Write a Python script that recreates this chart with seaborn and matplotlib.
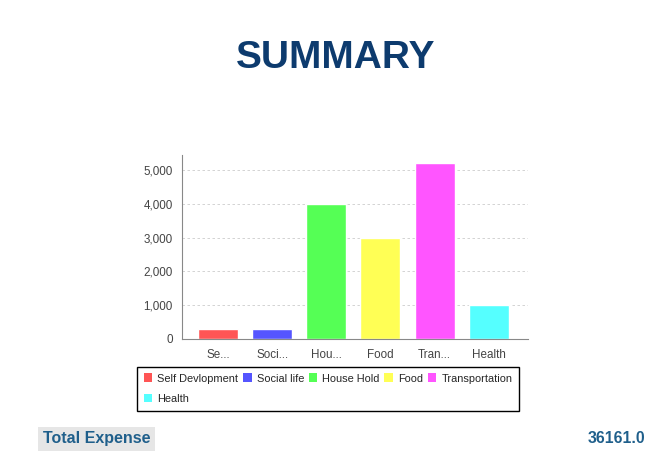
import matplotlib
matplotlib.use("Agg")
import matplotlib.pyplot as plt
import seaborn as sns
import pandas as pd
from matplotlib.patches import Patch
from matplotlib.ticker import FuncFormatter

# data
categories = ["Self Devlopment", "Social life", "House Hold", "Food", "Transportation", "Health"]
short_labels = ["Se...", "Soci...", "Hou...", "Food", "Tran...", "Health"]
amounts = [300, 300, 4000, 3000, 5200, 1000]
colors = ["#FF5555", "#5555FF", "#55FF55", "#FFFF55", "#FF55FF", "#55FFFF"]
total_text = "36161.0"

df = pd.DataFrame({"category": categories, "amount": amounts})

sns.set_style("white")
plt.rcParams["font.family"] = ["Liberation Sans", "DejaVu Sans"]

fig = plt.figure(figsize=(6.68, 4.68), dpi=100)
ax = fig.add_axes([0.272, 0.276, 0.518, 0.393])

sns.barplot(data=df, x="category", y="amount", hue="category",
            palette=colors, legend=False, width=0.74, saturation=1, ax=ax)

ax.set_ylim(0, 5450)
ax.set_xlim(-0.67, 5.72)
ax.set_yticks([0, 1000, 2000, 3000, 4000, 5000])
ax.yaxis.set_major_formatter(FuncFormatter(lambda v, p: f"{int(v):,}"))
ax.set_xticks(range(len(categories)))
ax.set_xticklabels(short_labels)
ax.set_xlabel("")
ax.set_ylabel("")
ax.tick_params(axis="both", labelsize=8.4, colors="#444444", length=3, width=0.6)
ax.tick_params(axis="x", pad=4)
ax.grid(axis="y", linestyle=(0, (3, 3)), color="#cccccc", linewidth=0.6)
ax.set_axisbelow(True)
for side in ["top", "right"]:
    ax.spines[side].set_visible(False)
for side in ["left", "bottom"]:
    ax.spines[side].set_color("#888888")
    ax.spines[side].set_linewidth(0.8)

# legend: order so that Health drops to the second row of the first column
handles = [Patch(facecolor=c, edgecolor="none", label=n) for n, c in zip(categories, colors)]
order = [0, 5, 1, 2, 3, 4]
leg = fig.legend([handles[i] for i in order], [categories[i] for i in order],
                 ncol=5, loc="upper left", bbox_to_anchor=(0.205, 0.216),
                 fontsize=7.9, frameon=True, fancybox=False, edgecolor="black",
                 handlelength=0.8, handleheight=0.8, handletextpad=0.45,
                 columnspacing=0.42, borderpad=0.6, labelspacing=0.95,
                 borderaxespad=0)
leg.get_frame().set_linewidth(1.0)
leg.get_frame().set_alpha(1)

fig.text(0.502, 0.877, "SUMMARY", ha="center", va="center",
         fontsize=28, fontweight="bold", color="#0d3b6e")

fig.text(0.064, 0.062, "Total Expense", ha="left", va="center",
         fontsize=11.5, fontweight="bold", color="#1f5f8b",
         bbox=dict(facecolor="#e6e6e6", edgecolor="none", boxstyle="square,pad=0.3"))
fig.text(0.966, 0.062, total_text, ha="right", va="center",
         fontsize=11.4, fontweight="bold", color="#1f5f8b")

fig.savefig("out.png", dpi=100)
